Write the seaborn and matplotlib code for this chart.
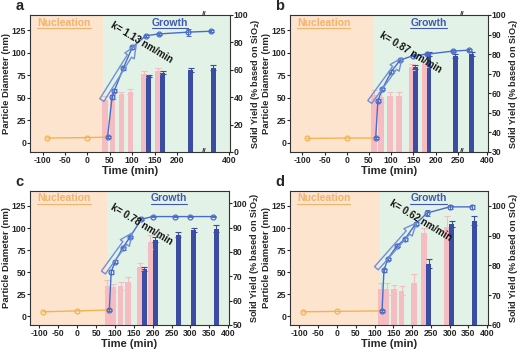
import numpy as np
import seaborn as sns
import matplotlib.pyplot as plt

# -----------------------------
# Data
# -----------------------------
# panel a
a_t = [45, 55, 60, 80, 100, 130, 160, 225, 360]
a_d = [6.5, 51, 58, 83, 106, 119, 121, 123, 124]
a_d_err = [1, 2, 1.5, 1.5, 1.5, 1, 1, 4, 1]
a_pink_t = [40, 56, 76, 96, 126, 157]
a_pink = [38, 42, 42, 44, 57, 59]
a_pink_err = [3, 3, 2, 2, 2, 2]
a_blue_t = [137, 168, 230, 365]
a_blue = [55.5, 58, 60, 61.5]
a_blue_err = [1, 1, 1.5, 2]
a_nuc_t = [-90, 0]
a_nuc_d = [5.5, 6]

# panel b
b_t = [65, 70, 80, 100, 120, 150, 180, 240, 360]
b_d = [5.5, 47, 60, 79, 92, 97, 98.5, 102, 103]
b_d_err = [1, 2, 1.5, 1.5, 1.5, 1, 1, 1, 1]
b_pink_t = [62, 77, 97, 117, 146, 175]
b_pink = [59, 58, 58.5, 58.5, 73.5, 75]
b_pink_err = [2.5, 2.5, 2, 2, 1.5, 1.5]
b_blue_t = [154, 185, 244, 365]
b_blue = [73.5, 80, 79, 80]
b_blue_err = [1, 1, 1, 1]
b_nuc_t = [-90, 0]
b_nuc_d = [5, 5.5]

# panel c
c_t = [85, 90, 100, 120, 140, 170, 200, 260, 300, 360]
c_d = [7, 50, 62, 77, 90, 110, 113, 113, 113, 113]
c_d_err = [1, 2, 1.5, 1.5, 1.5, 1, 1, 1, 1, 1]
c_pink_t = [80, 95, 115, 135, 166, 194]
c_pink = [66, 65.5, 66, 67.5, 74, 84]
c_pink_err = [2.5, 1.5, 1.5, 2, 1.5, 3]
c_blue_t = [178, 207, 268, 308, 368]
c_blue = [73, 85, 87, 89, 89.5]
c_blue_err = [1, 1, 1, 1, 1.5]
c_nuc_t = [-90, 0]
c_nuc_d = [5, 6]

# panel d
d_t = [120, 125, 135, 160, 180, 210, 240, 300, 360]
d_d = [6, 52, 65, 80, 87, 105, 117, 124, 124]
d_d_err = [1, 2, 1.5, 1.5, 1.5, 1.5, 3, 2, 2]
d_pink_t = [118, 132, 152, 172, 205, 232, 293]
d_pink = [72, 72, 72, 71.5, 74, 91, 93]
d_pink_err = [2, 2, 1.5, 1.5, 3, 1.5, 3.5]
d_blue_t = [244, 305, 365]
d_blue = [80.5, 94, 95]
d_blue_err = [1.5, 1, 1.5]
d_nuc_t = [-90, 0]
d_nuc_d = [5, 5.5]

rates = ["k= 1.13 nm/min", "k= 0.87 nm/min", "k= 0.78 nm/min", "k= 0.62 nm/min"]
growth_start = [35, 58, 78, 115]

# -----------------------------
# Style
# -----------------------------
sns.set_theme(style="ticks")
plt.rcParams["font.family"] = ["Liberation Sans", "DejaVu Sans"]
plt.rcParams["font.weight"] = "bold"
plt.rcParams["axes.labelweight"] = "bold"
plt.rcParams["axes.linewidth"] = 0.8
plt.rcParams["axes.edgecolor"] = "#333333"
plt.rcParams["xtick.major.size"] = 2
plt.rcParams["ytick.major.size"] = 2
plt.rcParams["xtick.major.width"] = 0.8
plt.rcParams["ytick.major.width"] = 0.8
plt.rcParams["xtick.major.pad"] = 1
plt.rcParams["ytick.major.pad"] = 0.8

PEACH = "#fce4cf"
GREEN = "#e2f2e6"
NUC_TXT = "#f4b26b"
GRO_TXT = "#3f58b0"
LINE = "#4a6cc9"
ORANGE = "#f5b350"
PINK = "#f5bcc2"
NAVY = "#3b4da3"
ARROW = "#6f8fd8"

# broken time axis for panels a and b
BRK = [-1000, 260, 345, 1000]
BRK_T = [-1000, 260, 261, 916]


def fwd(x):
    return np.interp(x, BRK, BRK_T)


def inv(x):
    return np.interp(x, BRK_T, BRK)


fig = plt.figure(figsize=(5.2, 3.56), dpi=100)
boxes = [
    [30 / 520, 1 - 152 / 356, 200 / 520, 137 / 356],
    [290 / 520, 1 - 152 / 356, 198 / 520, 137 / 356],
    [30 / 520, 1 - 325 / 356, 199 / 520, 134 / 356],
    [290 / 520, 1 - 325 / 356, 198 / 520, 134 / 356],
]


def panel(box, t, d, d_err, pk_t, pk, pk_err, bl_t, bl, bl_err, nuc_t, nuc_d,
          g0, rate, yr, yr_ticks, xticks, broken, arrow, ktxt, letter):
    ax = fig.add_axes(box)
    if broken:
        ax.set_xscale("function", functions=(fwd, inv))
    ax2 = ax.twinx()
    ax.set_zorder(2)
    ax2.set_zorder(1)
    ax.patch.set_visible(False)

    xlim = (-128, 402) if broken else (-125, 402)

    # backgrounds
    ax2.axvspan(xlim[0], g0, color=PEACH, lw=0, zorder=0)
    ax2.axvspan(g0, xlim[1], color=GREEN, lw=0, zorder=0)

    # bars (solid yield)
    pk_w = 13 if broken else 15
    bl_w = 11 if broken else 13
    sns.barplot(x=pk_t, y=pk, ax=ax2, native_scale=True, color=PINK,
                saturation=1, errorbar=None, linewidth=0, edgecolor="none",
                width=pk_w / np.min(np.diff(sorted(pk_t))), zorder=1)
    sns.barplot(x=bl_t, y=bl, ax=ax2, native_scale=True, color=NAVY,
                saturation=1, errorbar=None, linewidth=0, edgecolor="none",
                width=bl_w / np.min(np.diff(sorted(bl_t))), zorder=1)
    ax2.errorbar(pk_t, pk, yerr=pk_err, fmt="none", ecolor=PINK,
                 elinewidth=0.8, capsize=2, capthick=0.8, zorder=2)
    ax2.errorbar(bl_t, bl, yerr=bl_err, fmt="none", ecolor=NAVY,
                 elinewidth=0.8, capsize=2, capthick=0.8, zorder=2)

    # particle diameter lines
    sns.lineplot(x=nuc_t + [t[0]], y=nuc_d + [d[0]], ax=ax, color=ORANGE,
                 lw=1, marker="o", markersize=3.5, markerfacecolor="none",
                 markeredgecolor=ORANGE, markeredgewidth=0.9,
                 markevery=list(range(len(nuc_t))))
    ax.errorbar(t, d, yerr=d_err, fmt="none", ecolor=LINE, elinewidth=0.7,
                capsize=1.8, capthick=0.7)
    sns.lineplot(x=t, y=d, ax=ax, color=LINE, lw=1, marker="o",
                 markersize=3.5, markerfacecolor="none",
                 markeredgecolor=LINE, markeredgewidth=0.9)

    # hollow arrow + rate
    ax.annotate("", xy=arrow[1], xytext=arrow[0],
                arrowprops=dict(arrowstyle="simple,head_length=0.9,head_width=0.8,tail_width=0.35",
                                mutation_scale=10, fc="none", ec=ARROW, lw=1))
    ax.text(ktxt[0], ktxt[1], rate, fontsize=7, fontweight="bold",
            rotation=-31, ha="center", va="center", color="#111111")

    # axes
    ax.set_xlim(xlim)
    ax.set_ylim(-10, 142)
    ax2.set_ylim(yr)
    ax.set_xticks(xticks)
    ax.set_xticklabels([str(v) for v in xticks])
    ax.set_yticks([0, 25, 50, 75, 100, 125])
    ax2.set_yticks(yr_ticks)
    ax.tick_params(labelsize=6.2)
    ax2.tick_params(labelsize=6.2)
    ax.set_xlabel("Time (min)", fontsize=8, fontweight="bold", labelpad=0.5)
    ax.set_ylabel("Particle Diameter (nm)", fontsize=6.8, fontweight="bold", labelpad=0.3)
    ax2.set_ylabel(r"Solid Yield (% based on SiO$_\mathbf{2}$)", fontsize=6.6,
                   fontweight="bold", labelpad=0.3)
    for s in ax2.spines.values():
        s.set_visible(False)

    if broken:
        tr = ax.get_xaxis_transform()
        for yy in (0, 1):
            ax.text(300, yy, "//", transform=tr, ha="center", va="center",
                    fontsize=6, fontweight="bold", color="#333333", clip_on=False)

    # region labels
    n = ax.text(0.17, 0.945, "Nucleation", transform=ax.transAxes, ha="center",
                va="center", fontsize=7.5, fontweight="bold", color=NUC_TXT)
    g = ax.text(0.70, 0.945, "Growth", transform=ax.transAxes, ha="center",
                va="center", fontsize=7.5, fontweight="bold", color=GRO_TXT)
    fig.text(box[0] - 0.028, box[1] + box[3] + 0.005, letter, fontsize=10.5,
             fontweight="bold", va="bottom")
    return ax, [(n, NUC_TXT), (g, GRO_TXT)]


xt_a = [-100, -50, 0, 50, 100, 150, 200, 400]
xt_b = [-100, -50, 0, 50, 100, 150, 200, 250, 400]
xt_cd = [-100, -50, 0, 50, 100, 150, 200, 250, 300, 350, 400]

labels = []
labels.append(panel(boxes[0], a_t, a_d, a_d_err, a_pink_t, a_pink, a_pink_err,
                    a_blue_t, a_blue, a_blue_err, a_nuc_t, a_nuc_d,
                    growth_start[0], rates[0], (0, 100), range(0, 101, 20),
                    xt_a, True, [(29, 45), (112, 111)], (122, 112), "a"))
labels.append(panel(boxes[1], b_t, b_d, b_d_err, b_pink_t, b_pink, b_pink_err,
                    b_blue_t, b_blue, b_blue_err, b_nuc_t, b_nuc_d,
                    growth_start[1], rates[1], (30, 100), range(30, 101, 10),
                    xt_b, True, [(48, 43), (128, 97)], (144, 100), "b"))
labels.append(panel(boxes[2], c_t, c_d, c_d_err, c_pink_t, c_pink, c_pink_err,
                    c_blue_t, c_blue, c_blue_err, c_nuc_t, c_nuc_d,
                    growth_start[2], rates[2], (50, 105), range(50, 101, 10),
                    xt_cd, False, [(65, 47), (150, 97)], (170, 104), "c"))
labels.append(panel(boxes[3], d_t, d_d, d_d_err, d_pink_t, d_pink, d_pink_err,
                    d_blue_t, d_blue, d_blue_err, d_nuc_t, d_nuc_d,
                    growth_start[3], rates[3], (60, 105), range(60, 101, 10),
                    xt_cd, False, [(100, 52), (216, 108)], (224, 108), "d"))

# underline the region labels
fig.canvas.draw()
r = fig.canvas.get_renderer()
for ax, items in labels:
    inv_ax = ax.transAxes.inverted()
    for txt, col in items:
        bb = txt.get_window_extent(r)
        (x0, y0), (x1, y1) = inv_ax.transform([(bb.x0, bb.y0), (bb.x1, bb.y1)])
        ax.plot([x0, x1], [y0 - 0.005, y0 - 0.005], transform=ax.transAxes,
                color=col, lw=0.8, clip_on=False)

fig.savefig("out.png", dpi=100)
